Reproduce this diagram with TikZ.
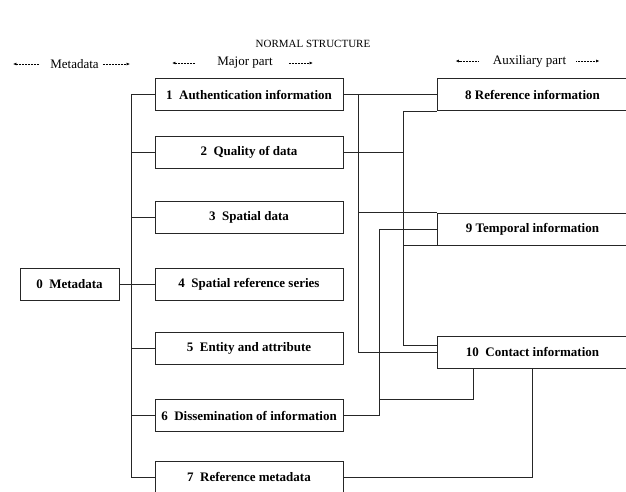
\documentclass[tikz,border=0pt]{standalone}
\usepackage{fontspec}
\setmainfont{Liberation Serif}
\usetikzlibrary{arrows.meta,calc}
\begin{document}
\begin{tikzpicture}[x=1pt,y=-1pt,
  box/.style={draw=black!85,line width=0.75pt,minimum height=32pt,inner sep=0pt,
    font=\fontsize{13}{15}\selectfont\bfseries},
  major/.style={box,minimum width=188pt},
  aux/.style={box,minimum width=191pt},
  hdr/.style={inner sep=0pt,font=\fontsize{13}{15}\selectfont},
  link/.style={draw=black!85,line width=0.75pt},
  hdarrow/.style={line width=0.5pt,dash pattern=on 0.8pt off 0.7pt,-{Latex[length=3.2pt,width=2.8pt]}}]
\useasboundingbox (0,0) rectangle (626,491);

% title and headers
\node[hdr,font=\fontsize{11}{13}\selectfont] (title) at (313,44) {NORMAL STRUCTURE};
\node[hdr] (hm) at (74.5,64) {Metadata};
\node[hdr] (hj) at (245,63) {Major part};
\node[hdr] (ha) at (529.5,61) {Auxiliary part};
\draw[hdarrow] ($(hm.west)+(-11,0)$) -- ++(-26,0);
\draw[hdarrow] ($(hm.east)+(4,0)$) -- ++(27,0);
\draw[hdarrow] ($(hj.west)+(-22,0)$) -- ++(-23,0);
\draw[hdarrow] ($(hj.east)+(16,0)$) -- ++(24,0);
\draw[hdarrow] ($(ha.west)+(-14,0)$) -- ++(-23,0);
\draw[hdarrow] ($(ha.east)+(10,0)$) -- ++(23,0);

% boxes
\node[box,minimum width=99pt] (b0) at (69.5,284) {0\ \ Metadata};
\node[major] (b1) at (249,94.5) {1\ \ Authentication information};
\node[major] (b2) at (249,152.5) {2\ \ Quality of data};
\node[major] (b3) at (249,217) {3\ \ Spatial data};
\node[major] (b4) at (249,284) {4\ \ Spatial reference series};
\node[major] (b5) at (249,348.5) {5\ \ Entity and attribute};
\node[major] (b6) at (249,415.5) {6\ \ Dissemination of information};
\node[major] (b7) at (249,477) {7\ \ Reference metadata};
\node[aux] (b8) at (532.5,94.5) {8 Reference information};
\node[aux] (b9) at (532.5,229) {9 Temporal information};
\node[aux] (b10) at (532.5,352) {10\ \ Contact information};

% trunk on the left
\coordinate (t) at (131,0);
\draw[link] (t |- b1.west) -- (t |- b7.west);
\draw[link] (b0.east) -- (t |- b0.east);
\foreach \b in {b1,b2,b3,b4,b5,b6,b7}
  \draw[link] (\b.west) -- (t |- \b.west);

% connectors to the auxiliary part
\coordinate (v1) at (358,0);
\coordinate (v2) at (403,0);
\coordinate (v3) at (379,0);
\coordinate (c10a) at ($(b10.west)+(0,-7)$);
\coordinate (k1) at (473,399);
\coordinate (k2) at (532,0);

\draw[link] (b1.east) -- (b8.west);
\draw[link] (v1 |- b1.east) -- (v1 |- b10.west) -- (b10.west);
\draw[link] (v1 |- b9.north west) -- (b9.north west);

\draw[link] (b8.south west) -- (v2 |- b8.south west) -- (v2 |- c10a) -- (c10a);
\draw[link] (b2.east) -- (v2 |- b2.east);
\draw[link] (v2 |- b9.south west) -- (b9.south west);

\draw[link] (b9.west) -- (v3 |- b9.west) -- (v3 |- b6.east) -- (b6.east);
\draw[link] (v3 |- k1) -- (k1) -- (k1 |- b10.south);

\draw[link] (b7.east) -- (k2 |- b7.east) -- (k2 |- b10.south);
\end{tikzpicture}
\end{document}
